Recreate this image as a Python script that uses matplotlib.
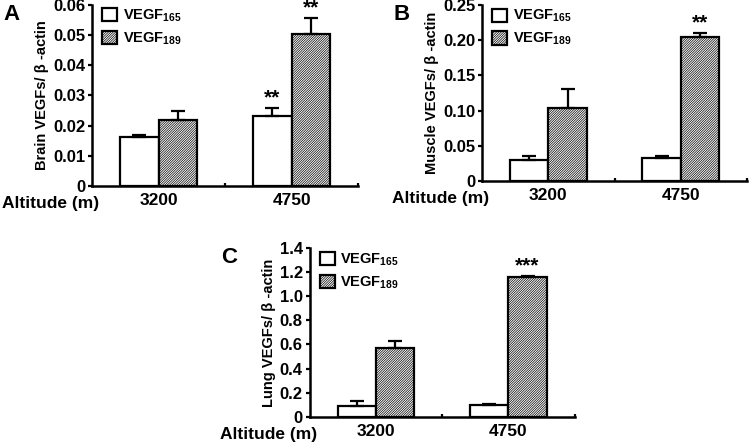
import numpy as np
import matplotlib
matplotlib.use('Agg')
import matplotlib.pyplot as plt

plt.rcParams['font.family'] = ['Liberation Sans', 'DejaVu Sans']
plt.rcParams['font.weight'] = 'bold'
plt.rcParams['mathtext.fontset'] = 'custom'
plt.rcParams['mathtext.rm'] = 'Liberation Sans:bold'
plt.rcParams['mathtext.bf'] = 'Liberation Sans:bold'
plt.rcParams['mathtext.default'] = 'rm'
plt.rcParams['hatch.linewidth'] = 0.5

# altitude groups
groups = ['3200', '4750']
series_labels = ['VEGF$_{165}$', 'VEGF$_{189}$']

# brain
brain_165 = [0.0163, 0.0233]
brain_165_err = [0.0006, 0.0024]
brain_189 = [0.0219, 0.0503]
brain_189_err = [0.0028, 0.0053]

# muscle
muscle_165 = [0.030, 0.033]
muscle_165_err = [0.005, 0.002]
muscle_189 = [0.104, 0.204]
muscle_189_err = [0.027, 0.006]

# lung
lung_165 = [0.09, 0.10]
lung_165_err = [0.04, 0.008]
lung_189 = [0.575, 1.16]
lung_189_err = [0.058, 0.01]

fig = plt.figure(figsize=(7.5, 4.45), dpi=100)

def panel(rect, letter, ylabel, v165, e165, v189, e189, ymax, yticks, yticklabels, stars):
    ax = fig.add_axes(rect)
    x = np.arange(len(groups))
    w = 0.29
    err_kw = dict(elinewidth=1.6, capsize=5, capthick=1.6, ecolor='black')
    b1 = ax.bar(x - w / 2, v165, w, yerr=[np.zeros(len(v165)), e165], color='white',
                edgecolor='black', linewidth=1.6, error_kw=err_kw, label=series_labels[0])
    b2 = ax.bar(x + w / 2, v189, w, yerr=[np.zeros(len(v189)), e189], color='white',
                edgecolor='black', hatch='/' * 14, linewidth=1.6, error_kw=err_kw,
                label=series_labels[1])
    # stars over bars
    for (gi, si), s in stars.items():
        if si == 0:
            xx, top = x[gi] - w / 2, v165[gi] + e165[gi]
        else:
            xx, top = x[gi] + w / 2, v189[gi] + e189[gi]
        ax.text(xx, top + ymax * 0.003, s, ha='center', va='bottom', fontsize=15, fontweight='bold')
    ax.set_xlim(-0.5, 1.5)
    ax.set_ylim(0, ymax)
    ax.set_yticks(yticks)
    ax.set_yticklabels(yticklabels, fontsize=12, fontweight='bold')
    ax.set_xticks(x)
    ax.set_xticklabels(groups, fontsize=12.5, fontweight='bold')
    ax.set_xticks([0.5, 1.5], minor=True)
    ax.tick_params(axis='x', which='major', length=0, pad=5)
    ax.tick_params(axis='x', which='minor', length=2, width=1.6, direction='in')
    ax.tick_params(axis='y', length=3, width=1.6, pad=2)
    for s in ['top', 'right']:
        ax.spines[s].set_visible(False)
    for s in ['left', 'bottom']:
        ax.spines[s].set_linewidth(1.8)
    ax.set_ylabel(ylabel, fontsize=10.5, fontweight='bold', labelpad=3)
    ax.legend(handles=[b1, b2], loc='upper left', bbox_to_anchor=(0.0, 1.04), frameon=False,
              fontsize=10.5, handlelength=1.0, handleheight=1.0, handletextpad=0.4,
              labelspacing=0.45, borderaxespad=0.3)
    l = rect[0]
    b = rect[1]
    fig.text(l - 0.118, rect[1] + rect[3] - 0.035, letter, fontsize=16, fontweight='bold')
    fig.text(l - 0.12, b - 0.04, 'Altitude (m)', fontsize=12.5, fontweight='bold', va='center')
    return ax

panel([0.1227, 0.582, 0.355, 0.407], 'A', 'Brain VEGFs/ β -actin',
      brain_165, brain_165_err, brain_189, brain_189_err, 0.06,
      [0, 0.01, 0.02, 0.03, 0.04, 0.05, 0.06],
      ['0', '0.01', '0.02', '0.03', '0.04', '0.05', '0.06'], {(1, 0): '**', (1, 1): '**'})

panel([0.643, 0.593, 0.353, 0.396], 'B', 'Muscle VEGFs/ β -actin',
      muscle_165, muscle_165_err, muscle_189, muscle_189_err, 0.25,
      [0, 0.05, 0.10, 0.15, 0.20, 0.25],
      ['0', '0.05', '0.10', '0.15', '0.20', '0.25'], {(1, 1): '**'})

panel([0.413, 0.063, 0.353, 0.380], 'C', 'Lung VEGFs/ β -actin',
      lung_165, lung_165_err, lung_189, lung_189_err, 1.4,
      [0, 0.2, 0.4, 0.6, 0.8, 1.0, 1.2, 1.4],
      ['0', '0.2', '0.4', '0.6', '0.8', '1.0', '1.2', '1.4'], {(1, 1): '***'})

fig.savefig('out.png', dpi=100)
